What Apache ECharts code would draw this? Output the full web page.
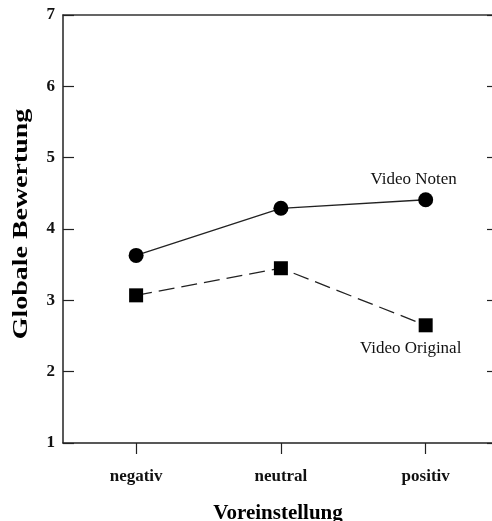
<!DOCTYPE html>
<html>
<head>
<meta charset="utf-8">
<script src="https://cdn.jsdelivr.net/npm/echarts@6/dist/echarts.min.js"></script>
<style>html,body{margin:0;padding:0;background:#fff}#c{width:492px;height:521px}</style>
</head>
<body>
<div id="c"></div>
<script>
var categories = ['negativ', 'neutral', 'positiv'];
var videoNoten = [3.63, 4.29, 4.41];
var videoOriginal = [3.07, 3.45, 2.65];
var yTicks = [1, 2, 3, 4, 5, 6, 7];
var seriesNames = ['Video Noten', 'Video Original'];
var xTitle = 'Voreinstellung';
var yTitle = 'Globale Bewertung';

var serif = '"Liberation Serif", "DejaVu Serif", serif';
function pts(arr, name, lblOpt) {
  return arr.map(function (v, i) {
    var d = { value: [i, v] };
    if (i === arr.length - 1) {
      d.label = Object.assign({ show: true, formatter: name, color: '#111', fontFamily: serif, fontSize: 17 }, lblOpt);
    }
    return d;
  });
}
var chart = echarts.init(document.getElementById('c'), null, { renderer: 'canvas' });
chart.setOption({
  animation: false,
  backgroundColor: '#fff',
  grid: { left: 63, top: 15, right: -1, bottom: 78, containLabel: false, outerBoundsMode: 'none' },
  graphic: [{
    type: 'text', x: 21, y: 224, rotation: Math.PI / 2, scaleX: 1.27,
    style: { text: yTitle, textAlign: 'center', textVerticalAlign: 'middle', font: 'bold 22px ' + serif, fill: '#000' }
  }],
  xAxis: [{
    type: 'value', min: -0.505, max: 2.465, position: 'bottom',
    splitLine: { show: false },
    axisLine: { show: true, onZero: false, lineStyle: { color: '#222', width: 1.5 } },
    axisTick: { show: true, inside: false, length: 11, customValues: [0, 1, 2], lineStyle: { color: '#222', width: 1.2 } },
    axisLabel: { customValues: [0, 1, 2], formatter: function (v) { return categories[Math.round(v)]; }, margin: 25, color: '#111', fontFamily: serif, fontSize: 17, fontWeight: 'bold' },
    name: xTitle, nameLocation: 'middle', nameGap: 60,
    nameTextStyle: { color: '#000', fontFamily: serif, fontSize: 21, fontWeight: 'bold' }
  }, {
    type: 'value', min: -0.505, max: 2.465, position: 'top',
    splitLine: { show: false },
    axisLine: { show: true, onZero: false, lineStyle: { color: '#333', width: 1.5 } },
    axisTick: { show: false }, axisLabel: { show: false }
  }],
  yAxis: [{
    type: 'value', min: yTicks[0], max: yTicks[yTicks.length - 1], interval: 1, position: 'left',
    splitLine: { show: false },
    axisLine: { show: true, onZero: false, lineStyle: { color: '#222', width: 1.5 } },
    axisTick: { show: true, inside: true, length: 11, lineStyle: { color: '#222', width: 1.2 } },
    axisLabel: { margin: 8, color: '#111', fontFamily: serif, fontSize: 17, fontWeight: 'bold' }
  }, {
    type: 'value', min: yTicks[0], max: yTicks[yTicks.length - 1], interval: 1, position: 'right',
    splitLine: { show: false },
    axisLine: { show: false, onZero: false },
    axisTick: { show: true, inside: true, length: 6, lineStyle: { color: '#222', width: 1.2 } },
    axisLabel: { show: false }
  }],
  series: [{
    name: seriesNames[0], type: 'line',
    data: pts(videoNoten, seriesNames[0], { position: 'top', offset: [-12, 1] }),
    symbol: 'circle', symbolSize: 15,
    itemStyle: { color: '#000' },
    lineStyle: { color: '#222', width: 1.3, type: 'solid' }
  }, {
    name: seriesNames[1], type: 'line',
    data: pts(videoOriginal, seriesNames[1], { position: 'bottom', offset: [-15, 3] }),
    symbol: 'rect', symbolSize: 14,
    itemStyle: { color: '#000' },
    lineStyle: { color: '#222', width: 1.3, type: [16, 7] }
  }]
});
</script>
</body>
</html>
